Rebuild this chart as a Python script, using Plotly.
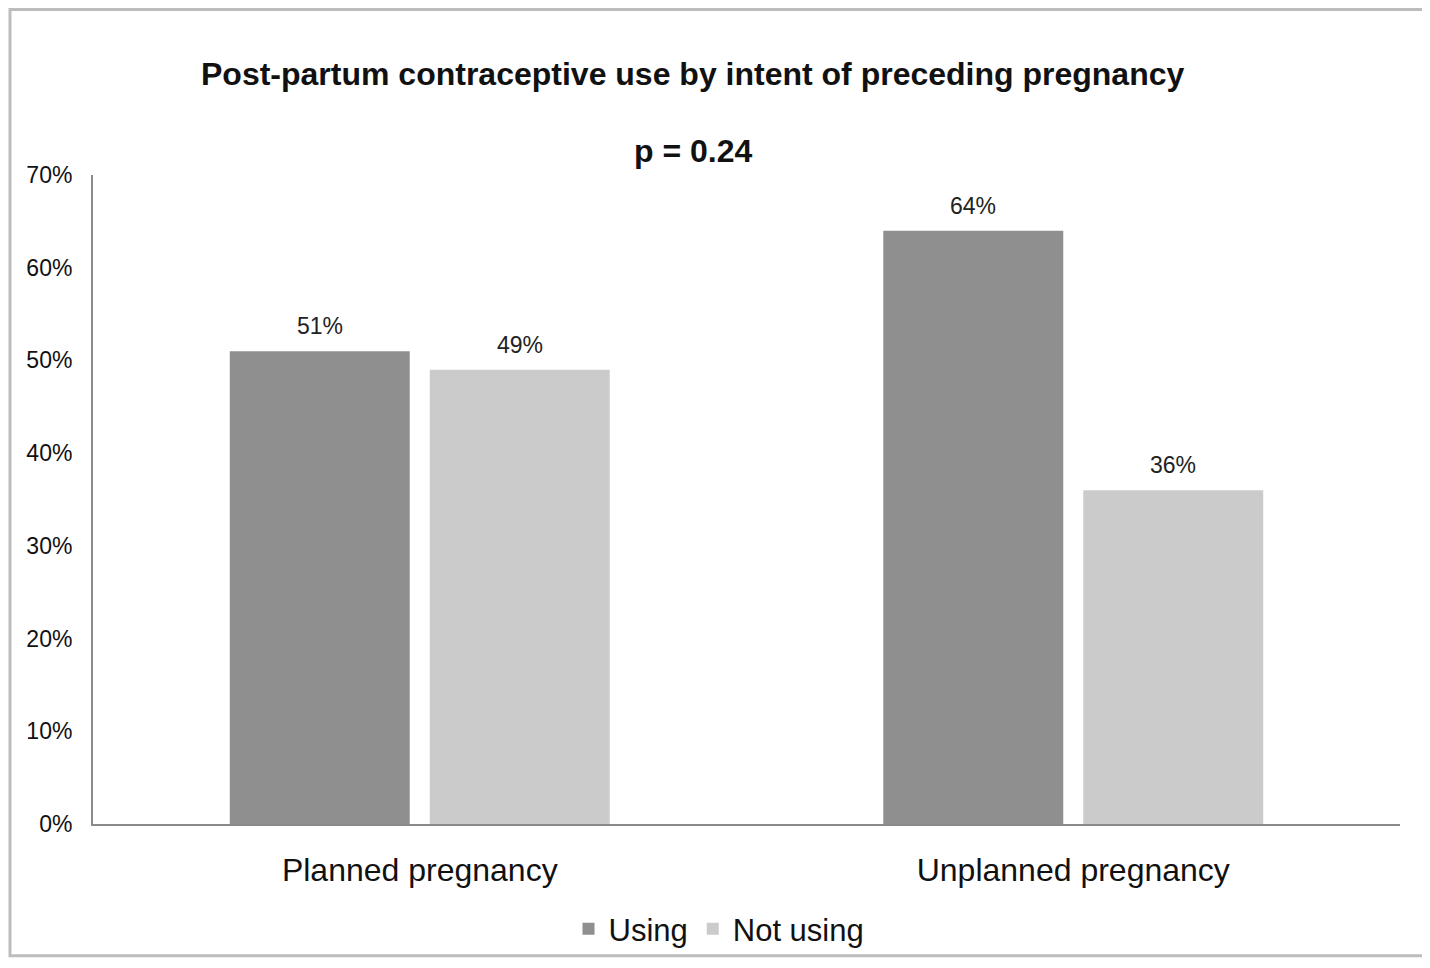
import plotly.graph_objects as go

categories = ["Planned pregnancy", "Unplanned pregnancy"]
using = [51, 64]
not_using = [49, 36]
y_ticks = [0, 10, 20, 30, 40, 50, 60, 70]
y_tick_labels = [f"{v}%" for v in y_ticks]
title_line1 = "Post-partum contraceptive use by intent of preceding pregnancy"
title_line2 = "p = 0.24"

FONT = "Liberation Sans, Arial, sans-serif"

# figure is placed at (8, 8) in the page by the default body margin
W, H = 1422, 960
L, T, R, B = 85, 167, 30, 138
PW = W - L - R
PH = H - T - B


def px_x(x):
    return (x - L) / PW


def px_y(y):
    return (H - B - y) / PH


fig = go.Figure()
fig.add_trace(go.Bar(
    name="Using", x=categories, y=using,
    marker=dict(color="#8f8f8f", line=dict(width=0)),
))
fig.add_trace(go.Bar(
    name="Not using", x=categories, y=not_using,
    marker=dict(color="#cbcbcb", line=dict(width=0)),
))

annotations = []
for vals, shift in ((using, -100), (not_using, 100)):
    for c, v in zip(categories, vals):
        annotations.append(dict(
            x=c, y=v, xref="x", yref="y", text=f"{v}%", showarrow=False,
            xshift=shift, yshift=25, yanchor="middle",
            font=dict(size=23, color="#222", family=FONT)))

annotations += [
    dict(text=f"<b>{title_line1}</b>", xref="paper", yref="paper",
         x=px_x(685), y=px_y(65), xanchor="center", yanchor="middle",
         showarrow=False, font=dict(size=32, color="#111", family=FONT)),
    dict(text=f"<b>{title_line2}</b>", xref="paper", yref="paper",
         x=px_x(685), y=px_y(143), xanchor="center", yanchor="middle",
         showarrow=False, font=dict(size=32, color="#111", family=FONT)),
]

fig.update_layout(
    width=W, height=H,
    margin=dict(l=L, r=R, t=T, b=B),
    paper_bgcolor="white", plot_bgcolor="white",
    barmode="group", bargap=0.388, bargroupgap=0.1,
    font=dict(family=FONT, color="#111"),
    showlegend=True,
    legend=dict(orientation="h", x=px_x(711), xanchor="center", y=px_y(928), yanchor="middle",
                font=dict(size=31, color="#111", family=FONT), traceorder="normal",
                bgcolor="rgba(0,0,0,0)"),
    xaxis=dict(showline=True, linecolor="#8a8a8a", linewidth=2, ticks="",
               tickfont=dict(size=32, color="#111", family=FONT), showgrid=False,
               ticklabelstandoff=17, automargin=False),
    yaxis=dict(range=[0, 70], tickvals=y_ticks, ticktext=y_tick_labels,
               showline=True, linecolor="#8a8a8a", linewidth=2, ticks="",
               showgrid=False, zeroline=False, ticklabelstandoff=14, automargin=False,
               tickfont=dict(size=23, color="#111", family=FONT)),
    annotations=annotations,
    shapes=[dict(type="rect", xref="paper", yref="paper",
                 x0=px_x(2), x1=px_x(1418),
                 y0=px_y(955), y1=px_y(0),
                 line=dict(color="#bdbdbd", width=3), fillcolor="rgba(0,0,0,0)")],
)

fig.write_html("out.html")
